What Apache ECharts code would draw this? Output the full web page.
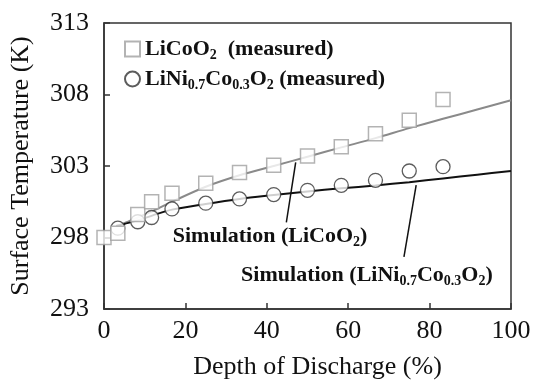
<!DOCTYPE html>
<html>
<head>
<meta charset="utf-8">
<script src="https://cdn.jsdelivr.net/npm/echarts@6/dist/echarts.min.js"></script>
<style>
html,body{margin:0;padding:0;background:#fff;}
#chart{width:535px;height:380px;}
</style>
</head>
<body>
<div id="chart"></div>
<script>
// ---- data ----
const measuredX = [0, 3.4, 8.3, 11.7, 16.7, 25, 33.3, 41.7, 50, 58.3, 66.7, 75, 83.3];
const licoo2Measured = [298.0, 298.3, 299.6, 300.5, 301.1, 301.8, 302.55, 303.05, 303.7, 304.35, 305.25, 306.2, 307.65];
const liniX = [3.4, 8.3, 11.7, 16.7, 25, 33.3, 41.7, 50, 58.3, 66.7, 75, 83.3];
const liniMeasured = [298.65, 299.1, 299.4, 300.0, 300.4, 300.7, 301.0, 301.3, 301.65, 302.0, 302.65, 302.95];
const simX = [3, 5, 8.3, 12, 16.7, 25, 33.3, 41.7, 50, 58.3, 66.7, 75, 83.3, 91.7, 100];
const licoo2Sim = [298.8, 299.0, 299.4, 299.85, 300.5, 301.55, 302.35, 303.0, 303.65, 304.3, 304.95, 305.65, 306.3, 306.95, 307.6];
const liniSim = [298.8, 298.95, 299.2, 299.55, 299.95, 300.35, 300.7, 300.97, 301.22, 301.44, 301.64, 301.87, 302.13, 302.39, 302.65];
const xTicks = [0, 20, 40, 60, 80, 100];
const yTicks = [293, 298, 303, 308, 313];
const seriesNames = ['LiCoO2  (measured)', 'LiNi0.7Co0.3O2 (measured)', 'Simulation (LiCoO2)', 'Simulation (LiNi0.7Co0.3O2)'];
// annotation anchors (data space)
const annoLiCoO2 = {text: [40.8, 298.1], line: [[47.1, 303.26], [44.8, 299.05]]};
const annoLiNi = {text: [64.6, 295.35], line: [[76.7, 301.67], [73.7, 296.65]]};

const zip = (xs, ys) => xs.map((x, i) => [x, ys[i]]);
const FONT = 'Liberation Serif';

const richLabel = {
  b: {fontFamily: FONT, fontWeight: 'bold', fontSize: 22, color: '#111', lineHeight: 26},
  s: {fontFamily: FONT, fontWeight: 'bold', fontSize: 14, color: '#111', verticalAlign: 'bottom', lineHeight: 14}
};
function toRich(name) {
  const parts = [];
  const re = /([A-Za-z)])(\d+(?:\.\d+)?)/g;
  let last = 0, m;
  while ((m = re.exec(name)) !== null) {
    const end = m.index + m[1].length;
    parts.push('{b|' + name.slice(last, end) + '}');
    parts.push('{s|' + m[2] + '}');
    last = end + m[2].length;
  }
  if (last < name.length) parts.push('{b|' + name.slice(last) + '}');
  return parts.join('');
}

const chart = echarts.init(document.getElementById('chart'), null, {renderer: 'canvas'});
const option = {
  animation: false,
  backgroundColor: '#fff',
  grid: {left: 104, right: 24, top: 23, bottom: 71, containLabel: false, outerBoundsMode: 'none',
         show: true, borderColor: '#333', borderWidth: 1.5, backgroundColor: 'transparent'},
  xAxis: {
    type: 'value', min: 0, max: 100, interval: 20,
    name: 'Depth of Discharge (%)', nameLocation: 'middle', nameGap: 45,
    nameTextStyle: {fontFamily: FONT, fontSize: 26, color: '#111', padding: [0, 0, 0, 20]},
    axisLine: {show: true, lineStyle: {color: '#333', width: 1.5}},
    axisTick: {show: true, inside: true, length: 6, lineStyle: {color: '#333', width: 1.5}},
    axisLabel: {fontFamily: FONT, fontSize: 26, color: '#111', margin: 9, showMinLabel: true, showMaxLabel: true},
    splitLine: {show: false}
  },
  yAxis: {
    type: 'value', min: 293, max: 313, interval: 5,
    name: 'Surface Temperature (K)', nameLocation: 'middle', nameGap: 70, nameRotate: 90,
    nameTextStyle: {fontFamily: FONT, fontSize: 26, color: '#111'},
    axisLine: {show: true, lineStyle: {color: '#333', width: 1.5}},
    axisTick: {show: true, inside: true, length: 6, lineStyle: {color: '#333', width: 1.5}},
    axisLabel: {fontFamily: FONT, fontSize: 26, color: '#111', margin: 15, showMinLabel: true, showMaxLabel: true},
    splitLine: {show: false}
  },
  legend: {
    orient: 'vertical', left: 119, top: 33, itemGap: 6, itemWidth: 15, itemHeight: 15,
    data: [
      {name: seriesNames[0], icon: 'rect'},
      {name: seriesNames[1], icon: 'circle'}
    ],
    formatter: toRich,
    textStyle: {rich: richLabel, fontFamily: FONT, fontSize: 22, fontWeight: 'bold', color: '#111'}
  },
  series: [
    {
      name: seriesNames[2], type: 'line', smooth: 0.3, showSymbol: false, symbol: 'none', z: 2,
      data: zip(simX, licoo2Sim),
      lineStyle: {color: '#8a8a8a', width: 2},
      markLine: {
        silent: true, symbol: ['none', 'none'], animation: false,
        lineStyle: {color: '#111', width: 1.5, type: 'solid'}, label: {show: false},
        data: [[{coord: annoLiCoO2.line[0]}, {coord: annoLiCoO2.line[1]}]]
      },
      markPoint: {
        silent: true, symbol: 'rect', symbolSize: 1, itemStyle: {color: 'rgba(0,0,0,0)'},
        label: {show: true, position: 'inside', formatter: () => toRich(seriesNames[2]), rich: richLabel},
        data: [{coord: annoLiCoO2.text}]
      }
    },
    {
      name: seriesNames[3], type: 'line', smooth: 0.3, showSymbol: false, symbol: 'none', z: 2,
      data: zip(simX, liniSim),
      lineStyle: {color: '#111', width: 2},
      markLine: {
        silent: true, symbol: ['none', 'none'], animation: false,
        lineStyle: {color: '#111', width: 1.5, type: 'solid'}, label: {show: false},
        data: [[{coord: annoLiNi.line[0]}, {coord: annoLiNi.line[1]}]]
      },
      markPoint: {
        silent: true, symbol: 'rect', symbolSize: 1, itemStyle: {color: 'rgba(0,0,0,0)'},
        label: {show: true, position: 'inside', formatter: () => toRich(seriesNames[3]), rich: richLabel},
        data: [{coord: annoLiNi.text}]
      }
    },
    {
      name: seriesNames[1], type: 'scatter', symbol: 'circle', symbolSize: 14, z: 3,
      data: zip(liniX, liniMeasured),
      itemStyle: {color: '#fff', borderColor: '#333', borderWidth: 1.3}
    },
    {
      name: seriesNames[0], type: 'scatter', symbol: 'rect', symbolSize: 14, z: 4,
      data: zip(measuredX, licoo2Measured),
      itemStyle: {color: '#fff', borderColor: '#a0a0a0', borderWidth: 1.5}
    }
  ]
};
chart.setOption(option);
</script>
</body>
</html>
